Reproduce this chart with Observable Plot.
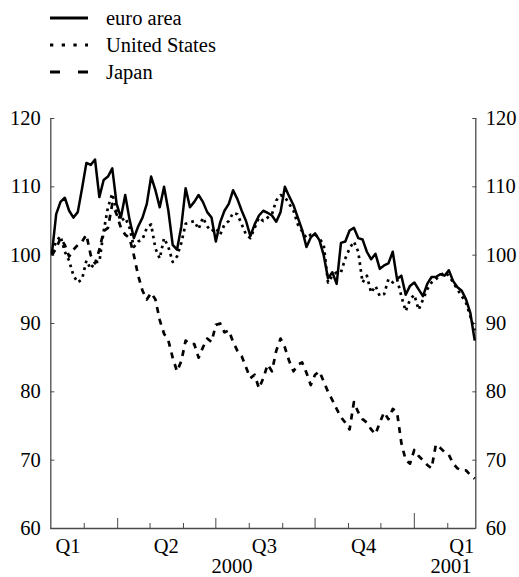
<!DOCTYPE html>
<html><head><meta charset="utf-8">
<script src="https://cdn.jsdelivr.net/npm/d3@7"></script>
<script src="https://cdn.jsdelivr.net/npm/@observablehq/plot@0.6"></script>
<style>
html,body{margin:0;padding:0;background:#fff;}
body{width:519px;height:577px;overflow:hidden;font-family:"Liberation Serif","Times New Roman",serif;color:#000;}
#legend{position:relative;width:519px;height:95px;}
#legend .sw{position:absolute;left:50px;width:38px;height:8px;}
#legend .lb{position:absolute;left:106px;font-size:20.5px;line-height:24px;height:24px;white-space:nowrap;}
#chart svg{display:block;}
</style></head><body>
<div id="legend"></div>
<div id="chart"></div>
<script>
// ---- data (one value every 4 days from 31 Jan 2000) ----
const seriesNames = ["euro area", "United States", "Japan"];
const firstDate = "2000-01-31";
const stepDays = 4;
const euroArea = [100.2,106.0,107.8,108.4,106.5,105.5,106.3,109.8,113.5,113.2,
114.0,108.5,111.0,111.5,112.7,107.5,105.5,108.8,105.2,102.5,
104.2,105.5,107.5,111.5,109.5,107.0,110.0,106.5,101.5,100.8,
104.2,109.8,107.0,107.8,108.8,107.8,106.3,105.5,102.0,104.8,
106.5,107.5,109.5,108.2,106.5,105.0,102.8,104.5,105.8,106.5,
106.2,105.8,104.9,106.3,110.0,108.6,107.3,105.5,103.7,101.2,
102.6,103.2,102.2,100.0,96.6,97.5,95.8,101.8,102.0,103.6,
104.0,102.5,102.3,100.5,99.4,100.2,98.0,98.5,98.8,100.5,
96.5,97.0,94.2,95.5,96.0,95.0,94.0,95.8,96.8,96.8,
97.2,97.0,97.8,96.2,95.3,94.8,93.5,91.5,87.5];
const unitedStates = [100.5,102.0,102.8,100.5,99.2,97.0,96.0,96.5,99.2,98.0,
99.0,99.0,103.5,107.0,109.0,106.5,105.0,105.5,104.0,101.2,
102.0,102.3,104.0,104.5,101.0,99.5,102.5,101.2,99.0,99.8,
101.8,104.6,104.8,105.0,103.8,105.5,104.2,103.5,104.0,103.0,
104.5,105.0,106.2,106.0,104.5,103.0,102.5,104.0,105.5,105.0,
105.5,106.0,108.0,108.8,108.5,107.5,106.5,104.5,103.5,102.5,
103.0,103.0,102.5,101.5,96.0,97.0,97.5,97.5,99.5,101.0,
102.0,100.5,96.0,97.0,94.5,95.5,94.0,94.3,96.5,96.0,
96.5,94.0,91.8,93.5,94.2,92.0,93.5,95.0,96.0,96.5,
97.0,97.5,97.0,96.0,95.0,94.0,93.0,91.0,89.0];
const japan = [100.0,101.0,102.5,101.5,99.8,100.8,101.5,102.0,103.0,100.0,
98.8,100.8,103.5,104.0,107.5,106.0,104.0,103.0,102.5,100.0,
97.0,94.8,93.5,94.5,93.5,90.5,88.5,87.5,85.0,83.0,
84.5,87.5,87.0,87.0,85.0,86.5,87.8,87.3,89.8,90.0,
88.7,89.0,87.3,86.0,85.2,83.6,82.0,82.5,80.5,82.0,
84.0,83.0,86.0,87.8,86.5,84.5,83.0,84.0,84.3,82.8,
81.0,82.5,83.0,81.5,80.0,78.8,77.5,76.3,75.5,74.5,
78.5,77.0,76.0,75.5,74.5,73.8,75.5,77.0,76.0,77.5,
77.0,72.5,70.0,69.5,71.5,70.6,70.0,69.3,68.8,72.3,
71.8,71.2,70.8,69.5,68.8,68.5,68.5,67.8,67.3];
const yTicks = [60, 70, 80, 90, 100, 110, 120];
const xDomain = ["2000-01-30", "2001-02-27"];
const quarterLabels = ["Q1", "Q2", "Q3", "Q4", "Q1"];
const quarterCentres = ["2000-02-15", "2000-05-16", "2000-08-15", "2000-11-15", "2001-02-14"];
const yearLabels = ["2000", "2001"];
const yearCentres = ["2000-07-16", "2001-02-04"];

// ---- build ----
const parse = s => new Date(s + "T00:00:00Z");
const t0 = parse(firstDate);
const dates = euroArea.map((_, i) => d3.utcDay.offset(t0, i * stepDays));
const rows = (vals) => vals.map((v, i) => ({date: dates[i], value: v}));
const styles = [
  {strokeWidth: 2.5, dash: null, legendDash: null, legendWidth: 3},
  {strokeWidth: 2.7, dash: "2.7,4.2", legendDash: "3.3,8.4", legendWidth: 3},
  {strokeWidth: 2.7, dash: "6,6", legendDash: "10,18", legendWidth: 3}
];
const seriesValues = [euroArea, unitedStates, japan];

// legend (HTML above the SVG)
const legend = document.getElementById("legend");
const legendY = [18, 45, 72];
seriesNames.forEach((name, i) => {
  const sw = document.createElementNS("http://www.w3.org/2000/svg", "svg");
  sw.setAttribute("class", "sw");
  sw.setAttribute("width", 38); sw.setAttribute("height", 8);
  sw.style.top = (legendY[i] - 4) + "px";
  const ln = document.createElementNS("http://www.w3.org/2000/svg", "line");
  ln.setAttribute("x1", 0); ln.setAttribute("x2", 38);
  ln.setAttribute("y1", 4); ln.setAttribute("y2", 4);
  ln.setAttribute("stroke", "#000");
  ln.setAttribute("stroke-width", styles[i].legendWidth);
  if (styles[i].legendDash) ln.setAttribute("stroke-dasharray", styles[i].legendDash);
  sw.appendChild(ln);
  legend.appendChild(sw);
  const lb = document.createElement("div");
  lb.className = "lb";
  lb.style.top = (legendY[i] - 12) + "px";
  lb.textContent = name;
  legend.appendChild(lb);
});

const months = d3.utcMonth.range(parse("2000-03-01"), parse("2001-02-02"));
const smallTicks = months.filter(d => d.getUTCMonth() % 3 !== 0);
const quarterTicks = months.filter(d => d.getUTCMonth() % 3 === 0 && d.getUTCMonth() !== 0);
const yearTicks = months.filter(d => d.getUTCMonth() === 0);
const qDates = quarterCentres.map(parse);
const yDates = yearCentres.map(parse);
const qMap = new Map(qDates.map((d, i) => [+d, quarterLabels[i]]));
const yMap = new Map(yDates.map((d, i) => [+d, yearLabels[i]]));
const axisColor = "#4a4a4a";
const fs = 20.5;

const chart = Plot.plot({
  width: 519, height: 482,
  marginTop: 23, marginBottom: 49, marginLeft: 50.3, marginRight: 43.7,
  x: {type: "utc", domain: xDomain.map(parse), label: null},
  y: {domain: [60, 120], label: null},
  style: {fontFamily: '"Liberation Serif","Times New Roman",serif', fontSize: fs + "px", color: "#000", background: "#fff", overflow: "visible"},
  marks: [
    Plot.ruleY([60], {stroke: axisColor, strokeWidth: 1.3}),
    Plot.ruleX(xDomain.map(parse), {stroke: axisColor, strokeWidth: 1.3}),
    Plot.axisY(yTicks, {anchor: "left", tickSize: -4, tickFormat: () => "", stroke: axisColor, label: null}),
    Plot.axisY(yTicks, {anchor: "left", tickSize: 0, tickPadding: 10, fontSize: fs, fill: "#000", label: null}),
    Plot.axisY(yTicks, {anchor: "right", tickSize: -4, tickFormat: () => "", stroke: axisColor, label: null}),
    Plot.axisY(yTicks, {anchor: "right", tickSize: 0, tickPadding: 10, fontSize: fs, fill: "#000", label: null}),
    Plot.axisX(smallTicks, {anchor: "bottom", tickSize: -5, tickFormat: () => "", stroke: axisColor, label: null}),
    Plot.axisX(quarterTicks, {anchor: "bottom", tickSize: -10, tickFormat: () => "", stroke: axisColor, label: null}),
    Plot.axisX(yearTicks, {anchor: "bottom", tickSize: -15, tickFormat: () => "", stroke: axisColor, label: null}),
    Plot.axisX(qDates, {anchor: "bottom", tickSize: 0, tickPadding: 10, fontSize: fs, fill: "#000", label: null, tickFormat: d => qMap.get(+d)}),
    Plot.axisX(yDates, {anchor: "bottom", tickSize: 0, tickPadding: 30, fontSize: fs, fill: "#000", label: null, tickFormat: d => yMap.get(+d)}),
    ...seriesValues.map((vals, i) => Plot.lineY(rows(vals), {
      x: "date", y: "value", stroke: "#000",
      strokeWidth: styles[i].strokeWidth,
      strokeDasharray: styles[i].dash || undefined,
      strokeLinejoin: "round", strokeLinecap: "butt"
    })).reverse()
  ]
});
document.getElementById("chart").appendChild(chart);
</script>
</body></html>
